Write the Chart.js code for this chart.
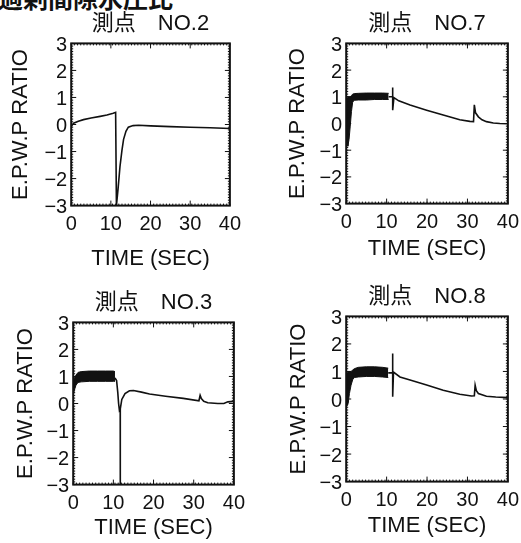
<!DOCTYPE html>
<html>
<head>
<meta charset="utf-8">
<script src="https://cdn.jsdelivr.net/npm/chart.js@4/dist/chart.umd.min.js"></script>
<style>
  html, body { margin: 0; padding: 0; background: #fff; }
  #page { position: relative; width: 521px; height: 543px; overflow: hidden; background: #fff; }
  #page canvas { position: absolute; }
  #caption { position: absolute; left: -2px; top: -15px; font: bold 25px 'Noto Sans CJK JP'; line-height: 1; color: #111; white-space: nowrap; }
</style>
</head>
<body>
<div id="page"><div id="caption">過剰間隙水圧比</div></div>
<script>
// axis text
const xTitle = 'TIME (SEC)';
const yTitle = 'E.P.W.P RATIO';
const xMin = 0, xMax = 40, xStep = 10;
const yMin = -3, yMax = 3, yStep = 1;

// 測点 NO.2
const no2Time  = [0, 0.6, 1.8, 3.1, 5, 7.3, 9, 10.6, 11.2, 11.4, 11.8, 12.3, 12.8, 13.2, 13.8, 14.4, 15.6, 17, 20, 25, 30, 35, 40];
const no2Ratio = [-0.08, 0.05, 0.12, 0.18, 0.24, 0.3, 0.35, 0.42, 0.45, -3, -2.4, -1.55, -0.95, -0.55, -0.25, -0.1, -0.04, -0.03, -0.05, -0.08, -0.1, -0.12, -0.15];

// 測点 NO.7
const no7BandTime = [0, 0.2, 0.4, 0.7, 1.0, 1.3, 1.6, 2.0, 3, 5, 7, 9, 10.5];
const no7BandHigh = [0.9, 1.0, 1.0, 1.0, 1.0, 1.05, 1.1, 1.12, 1.13, 1.14, 1.14, 1.14, 1.13];
const no7BandLow  = [0.0, -0.55, -0.85, -0.6, -0.1, 0.45, 0.8, 0.87, 0.88, 0.88, 0.9, 0.9, 0.9];
const no7Time  = [10.5, 11.0, 11.5, 11.5, 11.5, 11.8, 13, 15.8, 19.9, 24, 28.1, 30.6, 31.5, 31.7, 32.0, 32.7, 33.6, 34.7, 36.4, 38, 40];
const no7Ratio = [1.0, 1.0, 1.0, 1.35, 0.5, 0.97, 0.85, 0.69, 0.5, 0.32, 0.14, 0.08, 0.07, 0.7, 0.4, 0.25, 0.14, 0.07, 0.02, 0.0, -0.01];

// 測点 NO.3
const no3BandTime = [0, 0.3, 0.7, 1.2, 2, 4, 6, 8, 10, 10.4];
const no3BandHigh = [0.75, 0.95, 1.05, 1.15, 1.18, 1.2, 1.2, 1.2, 1.2, 1.18];
const no3BandLow  = [0.3, 0.5, 0.68, 0.78, 0.8, 0.82, 0.82, 0.82, 0.82, 0.82];
const no3Time  = [10.4, 10.8, 11.1, 11.3, 11.5, 11.7, 11.7, 11.75, 12.1, 12.9, 14, 15, 17, 19, 23, 27.4, 31.3, 31.6, 31.9, 32.5, 33.5, 36, 37.5, 38.5, 40];
const no3Ratio = [0.95, 0.85, 0.4, 0.0, -0.25, -0.2, -3, -0.2, 0.15, 0.37, 0.47, 0.48, 0.42, 0.35, 0.27, 0.19, 0.1, 0.3, 0.18, 0.08, 0.03, 0.0, 0.0, 0.06, 0.08];

// 測点 NO.8
const no8BandTime = [0, 0.2, 0.5, 0.8, 1.2, 1.6, 2, 3, 5, 7, 9, 10.4];
const no8BandHigh = [0.6, 0.95, 1.0, 1.0, 1.0, 1.05, 1.1, 1.15, 1.17, 1.17, 1.15, 1.12];
const no8BandLow  = [0.2, -0.25, -0.15, 0.2, 0.5, 0.7, 0.78, 0.8, 0.82, 0.82, 0.8, 0.78];
const no8Time  = [10.4, 11.0, 11.5, 11.5, 11.5, 11.7, 13.3, 15.8, 19.9, 24, 28.1, 31, 31.7, 31.9, 32.2, 32.7, 34.7, 37, 40];
const no8Ratio = [0.95, 0.95, 0.95, 1.65, 0.08, 0.98, 0.8, 0.69, 0.51, 0.32, 0.17, 0.11, 0.12, 0.5, 0.3, 0.2, 0.1, 0.07, 0.05];

// where each plot box sits on the page (left, top, right, bottom) and small title offsets
const panels = [
  { title: '測点　NO.2', box: [71, 43, 230, 206], xPad: 2, yPad: 6, time: no2Time, ratio: no2Ratio },
  { title: '測点　NO.7', box: [346, 43, 508, 204], xPad: -6, yPad: 4, time: no7Time, ratio: no7Ratio, bandTime: no7BandTime, bandHigh: no7BandHigh, bandLow: no7BandLow },
  { title: '測点　NO.3', box: [73, 322, 234, 485], xPad: -8, yPad: 3, time: no3Time, ratio: no3Ratio, bandTime: no3BandTime, bandHigh: no3BandHigh, bandLow: no3BandLow },
  { title: '測点　NO.8', box: [346, 316, 508, 482], xPad: -7, yPad: 3, time: no8Time, ratio: no8Ratio, bandTime: no8BandTime, bandHigh: no8BandHigh, bandLow: no8BandLow }
];

const ink = '#111';
Chart.defaults.font.family = "'Liberation Sans', 'Noto Sans CJK JP', sans-serif";
Chart.defaults.color = ink;

const zip = (xs, ys) => xs.map((x, i) => ({ x: x, y: ys[i] }));

// box frame with inward major and minor ticks
const framePlugin = {
  id: 'frame',
  afterDatasetsDraw(chart) {
    const { ctx, chartArea: a, scales: { x, y } } = chart;
    ctx.save();
    ctx.strokeStyle = ink;
    ctx.lineWidth = 1;
    ctx.beginPath();
    for (let i = 0; i <= 50; i++) {
      const px = x.getPixelForValue(xMin + i * (xMax - xMin) / 50);
      ctx.moveTo(px, a.top); ctx.lineTo(px, a.top + 2);
      ctx.moveTo(px, a.bottom); ctx.lineTo(px, a.bottom - 2);
    }
    for (let i = 0; i <= 60; i++) {
      const py = y.getPixelForValue(yMin + i * (yMax - yMin) / 60);
      ctx.moveTo(a.left, py); ctx.lineTo(a.left + 2, py);
      ctx.moveTo(a.right, py); ctx.lineTo(a.right - 2, py);
    }
    for (let v = xMin + xStep; v < xMax; v += xStep) {
      const px = x.getPixelForValue(v);
      ctx.moveTo(px, a.top); ctx.lineTo(px, a.top + 5);
      ctx.moveTo(px, a.bottom); ctx.lineTo(px, a.bottom - 5);
    }
    for (let v = yMin + yStep; v < yMax; v += yStep) {
      const py = y.getPixelForValue(v);
      ctx.moveTo(a.left, py); ctx.lineTo(a.left + 5, py);
      ctx.moveTo(a.right, py); ctx.lineTo(a.right - 5, py);
    }
    ctx.stroke();
    ctx.lineWidth = 2;
    ctx.strokeRect(a.left, a.top, a.right - a.left, a.bottom - a.top);
    ctx.restore();
  }
};

function makeConfig(p) {
  const datasets = [];
  if (p.bandTime) {
    datasets.push({ data: zip(p.bandTime, p.bandHigh), borderColor: ink, borderWidth: 1, pointRadius: 0, fill: false });
    datasets.push({ data: zip(p.bandTime, p.bandLow), borderColor: ink, borderWidth: 1, pointRadius: 0, fill: '-1', backgroundColor: ink });
  }
  datasets.push({ data: zip(p.time, p.ratio), borderColor: ink, borderWidth: 1.6, pointRadius: 0, fill: false });

  return {
    type: 'line',
    data: { datasets: datasets },
    options: {
      responsive: false,
      maintainAspectRatio: false,
      animation: false,
      layout: { padding: 0 },
      plugins: {
        legend: { display: false },
        tooltip: { enabled: false },
        title: { display: true, text: p.title, fullSize: false, color: ink, font: { size: 22, weight: 'normal', lineHeight: 1.2 }, padding: { top: 0, bottom: 6 } }
      },
      scales: {
        x: {
          type: 'linear', min: xMin, max: xMax,
          grid: { display: false, drawTicks: false },
          border: { display: false },
          ticks: { stepSize: xStep, padding: 7, autoSkip: false, font: { size: 20 }, color: ink, maxRotation: 0 },
          title: { display: true, text: xTitle, color: ink, font: { size: 22 }, padding: { top: p.xPad, bottom: 0 } }
        },
        y: {
          min: yMin, max: yMax,
          grid: { display: false, drawTicks: false },
          border: { display: false },
          ticks: { stepSize: yStep, padding: 4, labelOffset: 2, autoSkip: false, font: { size: 20 }, color: ink,
                   callback: v => v < 0 ? '\u2212' + (-v) : String(v) },
          title: { display: true, text: yTitle, color: ink, font: { size: 22 }, padding: { top: 0, bottom: p.yPad } }
        }
      }
    },
    plugins: [framePlugin]
  };
}

const page = document.getElementById('page');
panels.forEach(p => {
  const [l, t, r, b] = p.box;
  const canvas = document.createElement('canvas');
  page.appendChild(canvas);
  canvas.width = 260; canvas.height = 260;
  let chart = new Chart(canvas, makeConfig(p));
  let a = chart.chartArea;
  const w = 260 + (r - l) - (a.right - a.left);
  const h = 260 + (b - t) - (a.bottom - a.top);
  chart.destroy();
  canvas.width = w; canvas.height = h;
  canvas.style.width = w + 'px'; canvas.style.height = h + 'px';
  chart = new Chart(canvas, makeConfig(p));
  a = chart.chartArea;
  canvas.style.left = (l - a.left) + 'px';
  canvas.style.top = (t - a.top) + 'px';
});
</script>
</body>
</html>
